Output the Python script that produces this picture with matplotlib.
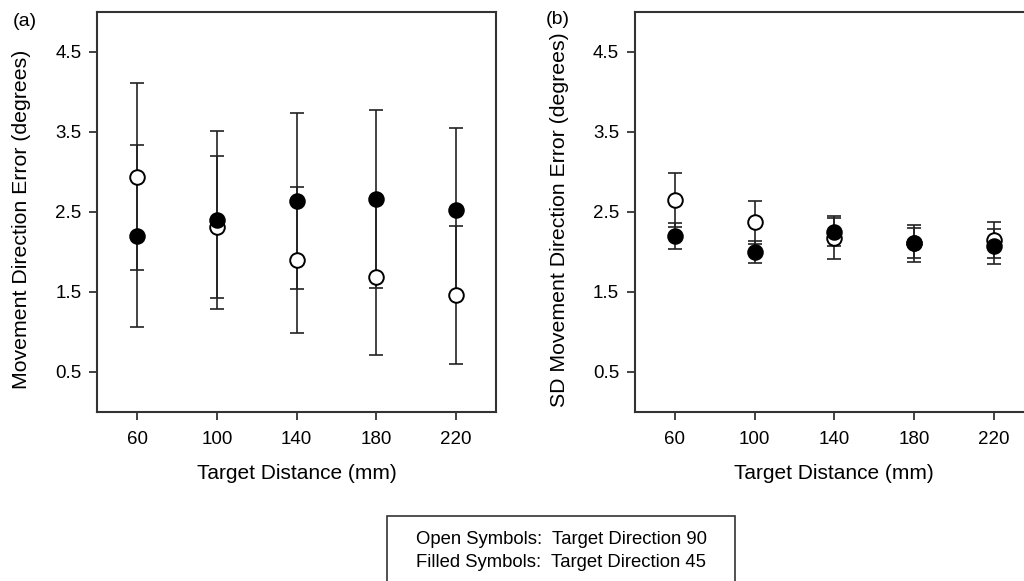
import numpy as np
import matplotlib
matplotlib.use('Agg')
import matplotlib.pyplot as plt

plt.rcParams['font.family'] = ['Liberation Sans', 'DejaVu Sans']

# data
distance = [60, 100, 140, 180, 220]

# (a) mean movement direction error
a_open = [2.94, 2.31, 1.90, 1.69, 1.46]
a_open_err = [1.17, 0.89, 0.91, 0.98, 0.86]
a_fill = [2.20, 2.40, 2.64, 2.66, 2.52]
a_fill_err = [1.14, 1.11, 1.10, 1.11, 1.03]

# (b) SD of movement direction error
b_open = [2.65, 2.37, 2.18, 2.11, 2.15]
b_open_err = [0.34, 0.27, 0.27, 0.23, 0.23]
b_fill = [2.20, 2.00, 2.25, 2.11, 2.07]
b_fill_err = [0.165, 0.135, 0.175, 0.19, 0.22]

yticks = [0.5, 1.5, 2.5, 3.5, 4.5]
legend_text = 'Open Symbols:  Target Direction 90\nFilled Symbols:  Target Direction 45'

fig = plt.figure(figsize=(10.24, 5.81), dpi=100)
ax1 = fig.add_axes([97.3/1024, 1-412/581, 398.4/1024, 400/581])
ax2 = fig.add_axes([635/1024, 1-412/581, 398.4/1024, 400/581])

dark = '#222222'

def draw(ax, yo, eo, yf, ef, ylabel, tag, tag_x, tag_y):
    ax.errorbar(distance, yo, yerr=eo, fmt='none', ecolor=dark, elinewidth=1.2,
                capsize=5, capthick=1.2, zorder=2)
    ax.errorbar(distance, yf, yerr=ef, fmt='none', ecolor=dark, elinewidth=1.2,
                capsize=5, capthick=1.2, zorder=2)
    ax.plot(distance, yo, 'o', ls='none', ms=10.5, mfc='white', mec='black',
            mew=1.4, zorder=3)
    ax.plot(distance, yf, 'o', ls='none', ms=10.5, mfc='black', mec='black',
            mew=1.4, zorder=4)
    ax.set_xlim(40, 240)
    ax.set_ylim(0, 5)
    ax.set_xticks(distance)
    ax.set_yticks(yticks)
    ax.set_yticklabels([str(t) for t in yticks])
    ax.tick_params(direction='out', length=6, width=1.2, color=dark,
                   labelsize=13.5)
    ax.tick_params(axis='x', pad=8)
    ax.tick_params(axis='y', pad=5.5)
    for s in ax.spines.values():
        s.set_linewidth(1.5)
        s.set_color('#333333')
    ax.set_xlabel('Target Distance (mm)', fontsize=15)
    ax.xaxis.set_label_coords(0.5, -0.13)
    ax.set_ylabel(ylabel, fontsize=15.3, va='center')
    ax.yaxis.set_label_coords(-0.19, 0.482)
    ax.text(tag_x, tag_y, tag, transform=ax.transAxes, fontsize=14,
            ha='center', va='center')

draw(ax1, a_open, a_open_err, a_fill, a_fill_err,
     'Movement Direction Error (degrees)', '(a)', -0.181, 0.975)
draw(ax2, b_open, b_open_err, b_fill, b_fill_err,
     'SD Movement Direction Error (degrees)', '(b)', -0.193, 0.982)

# legend box at the bottom (cut off by the figure edge)
box = plt.Rectangle((387/1024, -0.05), 348/1024, 1-516/581+0.05,
                    transform=fig.transFigure, fill=False, lw=1.2,
                    ec='#333333')
fig.add_artist(box)
fig.text(561/1024, 1-551/581, legend_text, ha='center', va='center',
         fontsize=13.3, linespacing=1.4)

fig.savefig('out.png', dpi=100)
